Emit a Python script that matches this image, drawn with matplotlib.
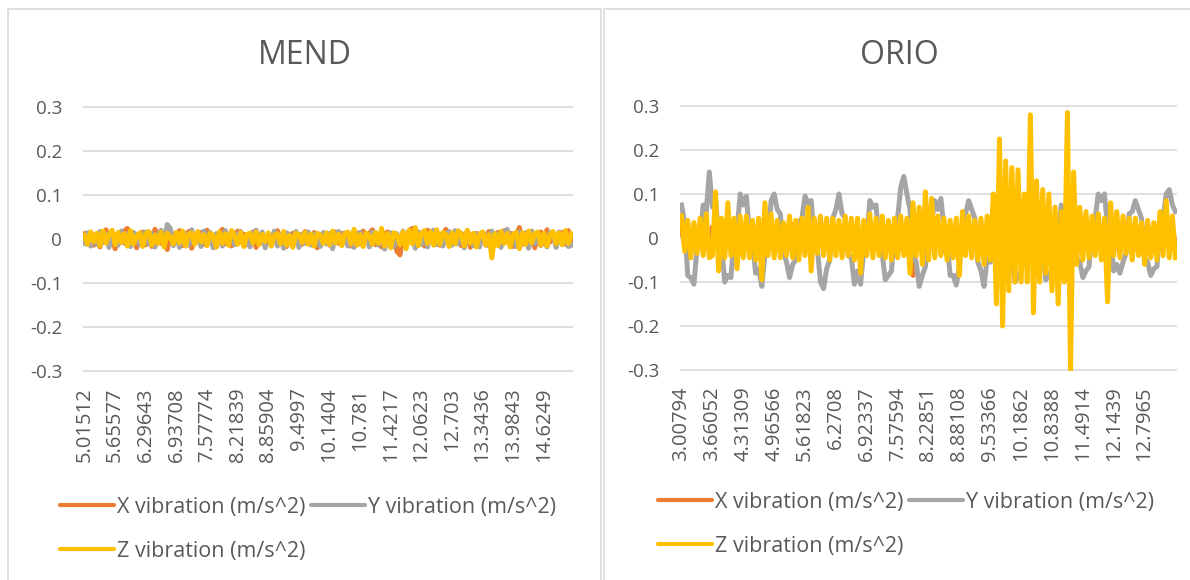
import matplotlib.pyplot as plt
from matplotlib.lines import Line2D
from matplotlib.patches import Rectangle

plt.rcParams['font.family'] = ['Open Sans', 'DejaVu Sans']

# series shared by both charts
series_names = ['X vibration (m/s^2)', 'Y vibration (m/s^2)', 'Z vibration (m/s^2)']
series_colors = ['#ED7D31', '#A5A5A5', '#FFC000']
y_ticks = [-0.3, -0.2, -0.1, 0, 0.1, 0.2, 0.3]
y_tick_labels = ['-0.3', '-0.2', '-0.1', '0', '0.1', '0.2', '0.3']
label_step = 10  # one category label every 10 samples

# MEND
mend_labels = ['5.01512', '5.65577', '6.29643', '6.93708', '7.57774', '8.21839',
               '8.85904', '9.4997', '10.1404', '10.781', '11.4217', '12.0623',
               '12.703', '13.3436', '13.9843', '14.6249']
mend_x = [
    0.012, -0.008, 0.015, -0.014, 0.006, -0.018, 0.010, 0.021, -0.011, 0.004,
    -0.022, 0.013, -0.006, 0.018, 0.024, -0.009, 0.011, -0.020, 0.007, 0.016,
    -0.013, 0.009, -0.017, 0.022, 0.003, -0.010, 0.014, -0.024, 0.008, 0.012,
    -0.006, 0.019, -0.015, 0.005, 0.017, -0.021, 0.010, -0.004, 0.015, -0.012,
    0.020, -0.008, 0.006, -0.018, 0.013, 0.022, -0.011, 0.004, -0.016, 0.009,
    0.018, -0.007, 0.011, -0.013, 0.003, 0.016, -0.019, 0.008, 0.012, -0.010,
    0.005, -0.015, 0.014, 0.019, -0.008, 0.010, -0.017, 0.006, 0.013, -0.005,
    0.011, -0.012, 0.017, -0.009, 0.004, 0.015, -0.020, 0.009, -0.006, 0.012,
    -0.014, 0.007, 0.016, -0.010, 0.013, -0.005, 0.010, -0.016, 0.008, 0.014,
    -0.011, 0.018, -0.007, 0.012, 0.021, -0.013, 0.006, -0.018, 0.010, 0.016,
    -0.009, 0.013, -0.028, -0.036, 0.011, -0.012, 0.019, 0.024, -0.010, 0.015,
    0.008, -0.016, 0.020, 0.012, -0.008, 0.017, -0.014, 0.009, 0.022, -0.011,
    0.014, -0.007, 0.018, -0.015, 0.010, 0.016, -0.019, 0.007, 0.013, -0.009,
    0.011, -0.014, 0.017, -0.022, 0.008, 0.015, -0.010, 0.019, -0.006, 0.013,
    -0.017, 0.010, 0.026, -0.012, 0.014, -0.008, 0.018, -0.020, 0.009, 0.016,
    -0.011, 0.021, -0.007, 0.013, -0.016, 0.010, 0.015, -0.012, 0.019, -0.008,
]
mend_y = [
    -0.010, 0.014, -0.016, 0.009, -0.012, 0.017, -0.008, 0.011, -0.019, 0.013,
    0.007, -0.014, 0.018, -0.010, 0.012, -0.017, 0.015, 0.008, -0.013, 0.010,
    0.016, -0.011, 0.013, -0.018, 0.009, 0.020, -0.012, 0.033, 0.024, -0.015,
    0.012, -0.019, 0.016, 0.010, -0.014, 0.021, -0.009, 0.013, -0.017, 0.018,
    -0.011, 0.015, -0.020, 0.012, 0.009, -0.016, 0.019, -0.010, 0.014, -0.013,
    0.011, 0.017, -0.015, 0.008, -0.018, 0.013, 0.020, -0.012, 0.016, -0.020,
    0.012, -0.009, 0.018, -0.016, 0.010, -0.021, 0.014, 0.009, -0.013, 0.017,
    -0.019, 0.011, -0.010, 0.016, -0.014, 0.012, 0.008, -0.017, 0.015, -0.011,
    0.013, -0.022, 0.010, 0.017, -0.012, 0.014, -0.016, 0.011, -0.019, 0.009,
    0.015, -0.013, 0.012, -0.018, 0.016, 0.010, -0.014, 0.019, -0.023, 0.011,
    0.014, -0.017, 0.012, -0.010, 0.018, -0.015, 0.009, 0.013, -0.021, 0.016,
    -0.012, 0.011, -0.018, 0.015, 0.020, -0.013, 0.010, -0.016, 0.012, 0.017,
    -0.014, 0.019, -0.011, 0.013, -0.020, 0.016, 0.009, -0.015, 0.012, -0.018,
    0.014, 0.010, -0.016, 0.018, -0.012, 0.011, -0.019, 0.015, 0.022, -0.014,
    0.012, -0.017, 0.016, -0.010, 0.013, -0.021, 0.017, -0.011, 0.014, -0.015,
    0.010, -0.018, 0.015, 0.012, -0.019, 0.016, -0.013, 0.011, -0.017, -0.014,
]
mend_z = [
    0.008, -0.012, 0.016, -0.006, 0.013, -0.015, 0.018, -0.009, 0.011, 0.020,
    -0.013, 0.015, -0.008, 0.012, -0.016, 0.019, -0.011, 0.007, 0.014, -0.017,
    0.012, 0.017, -0.014, 0.009, -0.010, 0.016, -0.018, 0.013, 0.006, -0.011,
    0.015, -0.009, 0.018, -0.016, 0.011, 0.014, -0.012, 0.017, -0.007, 0.010,
    -0.015, 0.013, 0.008, -0.018, 0.016, -0.010, 0.012, -0.014, 0.019, 0.007,
    -0.012, 0.015, -0.017, 0.010, 0.013, -0.009, 0.016, -0.013, 0.011, -0.006,
    0.014, -0.016, 0.009, 0.012, -0.011, 0.017, -0.014, 0.008, -0.019, 0.013,
    0.010, -0.008, 0.015, -0.012, 0.011, -0.016, 0.013, 0.009, -0.010, 0.014,
    -0.013, 0.018, -0.009, 0.011, -0.015, 0.012, 0.016, -0.011, 0.022, -0.014,
    0.010, -0.017, 0.013, 0.008, -0.012, 0.015, -0.010, 0.024, -0.016, 0.012,
    -0.020, 0.014, 0.009, -0.013, 0.016, -0.022, 0.020, -0.011, 0.026, -0.015,
    0.013, 0.019, -0.010, 0.016, -0.014, 0.021, -0.012, 0.015, 0.010, -0.017,
    0.014, -0.011, 0.018, 0.012, -0.016, 0.020, -0.009, 0.013, -0.018, 0.011,
    0.016, -0.013, 0.010, -0.043, 0.012, -0.015, 0.017, -0.010, 0.013, -0.018,
    0.011, 0.015, -0.022, 0.014, -0.012, 0.018, -0.009, 0.012, 0.016, -0.014,
    0.013, -0.016, 0.010, 0.017, -0.011, 0.014, -0.013, 0.019, -0.010, 0.012,
]

# ORIO
orio_labels = ['3.00794', '3.66052', '4.31309', '4.96566', '5.61823', '6.2708',
               '6.92337', '7.57594', '8.22851', '8.88108', '9.53366', '10.1862',
               '10.8388', '11.4914', '12.1439', '12.7965']
orio_x = [
    0.02, -0.015, 0.025, -0.02, 0.01, -0.025, 0.015, -0.01, 0.03, -0.02,
    0.025, -0.015, 0.02, -0.03, 0.015, -0.02, 0.025, -0.01, 0.02, -0.025,
    0.015, -0.02, 0.03, -0.015, 0.02, -0.025, 0.01, -0.03, 0.025, -0.015,
    0.02, -0.01, 0.025, -0.02, 0.015, -0.025, 0.03, -0.015, 0.02, -0.02,
    0.01, 0.025, -0.03, 0.02, -0.015, 0.025, -0.02, 0.015, -0.025, 0.02,
    -0.01, 0.025, -0.02, 0.03, -0.015, 0.02, -0.025, 0.015, -0.03, 0.02,
    0.025, -0.015, 0.02, -0.02, 0.03, -0.025, 0.015, -0.02, 0.025, -0.015,
    0.02, -0.025, 0.015, -0.02, -0.04, -0.085, -0.02, 0.03, 0.04, -0.03,
    0.035, -0.02, 0.025, -0.015, 0.02, -0.03, 0.025, -0.02, 0.015, -0.025,
    -0.04, 0.02, 0.03, -0.02, 0.025, -0.025, 0.015, -0.03, 0.02, -0.035,
    -0.03, 0.04, -0.05, 0.06, -0.05, 0.05, -0.04, 0.05, -0.04, 0.05,
    -0.04, 0.04, -0.04, 0.06, -0.05, 0.04, -0.04, 0.04, -0.03, 0.04,
    -0.04, 0.03, -0.04, 0.03, -0.04, 0.05, -0.06, 0.04, -0.03, 0.03,
    -0.02, 0.025, -0.02, 0.03, -0.015, 0.02, -0.025, 0.02, -0.04, 0.02,
    0.035, -0.02, 0.03, -0.02, 0.025, -0.015, 0.02, -0.025, 0.02, -0.015,
    0.02, -0.03, 0.02, -0.02, 0.015, -0.025, 0.03, 0.04, -0.02, 0.025,
    -0.02,
]
orio_y = [
    0.075, 0.035, -0.085, -0.09, -0.105, -0.025, -0.01, 0.075, 0.06, 0.15,
    0.07, 0.09, 0.0, -0.02, -0.1, -0.085, -0.09, 0.0, 0.02, 0.1,
    0.075, 0.095, 0.01, -0.005, -0.08, -0.07, -0.11, -0.04, -0.02, 0.085,
    0.1, 0.065, 0.055, -0.03, -0.055, -0.09, -0.06, -0.05, 0.035, 0.045,
    0.095, 0.08, 0.085, 0.0, -0.025, -0.1, -0.115, -0.07, -0.05, 0.045,
    0.065, 0.1, 0.055, 0.045, -0.04, -0.045, -0.105, -0.075, -0.105, -0.03,
    0.0, 0.085, 0.07, 0.075, -0.01, -0.035, -0.095, -0.085, -0.075, 0.015,
    0.045, 0.115, 0.14, 0.1, 0.065, -0.04, -0.055, -0.11, -0.085, -0.065,
    0.025, 0.035, 0.085, 0.065, 0.09, 0.025, -0.005, -0.085, -0.085, -0.107,
    -0.065, 0.035, 0.055, 0.085, 0.065, 0.045, -0.055, -0.075, -0.11, -0.045,
    -0.055, 0.035, 0.045, 0.085, 0.07, 0.065, -0.025, -0.045, -0.1, -0.085,
    -0.075, 0.015, 0.035, 0.09, 0.075, 0.085, 0.005, -0.025, -0.095, -0.08,
    -0.09, -0.025, 0.005, 0.075, 0.065, 0.085, 0.065, 0.045, -0.045, -0.055,
    -0.09, -0.075, -0.065, 0.025, 0.045, 0.1, 0.085, 0.1, 0.025, -0.005,
    -0.075, -0.06, -0.08, -0.055, -0.035, 0.055, 0.06, 0.085, 0.065, 0.045,
    -0.045, -0.055, -0.085, -0.07, -0.065, 0.025, 0.045, 0.1, 0.11, 0.075,
    0.06,
]
orio_z = [
    0.05, -0.03, 0.04, -0.045, 0.035, -0.035, 0.045, -0.04, 0.055, -0.045,
    -0.04, 0.105, -0.075, 0.045, -0.045, 0.08, -0.04, 0.045, -0.07, 0.05,
    -0.045, 0.05, -0.045, 0.04, -0.05, 0.045, -0.095, 0.08, -0.04, 0.055,
    -0.045, 0.04, -0.045, 0.035, -0.04, 0.05, -0.045, 0.04, -0.05, 0.045,
    -0.04, 0.07, -0.075, 0.045, -0.035, 0.05, -0.04, 0.045, -0.05, 0.045,
    -0.04, 0.04, -0.045, 0.05, -0.04, 0.045, -0.05, 0.045, -0.08, 0.04,
    -0.04, 0.055, -0.045, 0.045, -0.04, 0.05, -0.045, 0.04, -0.05, 0.045,
    -0.045, 0.05, -0.04, 0.045, -0.08, 0.08, -0.04, 0.07, -0.06, 0.105,
    -0.05, 0.09, -0.045, 0.05, -0.04, 0.045, -0.05, 0.04, -0.045, 0.045,
    -0.085, 0.06, -0.04, 0.05, -0.045, 0.04, -0.05, 0.045, -0.06, 0.05,
    -0.05, 0.1, -0.15, 0.225, -0.2, 0.175, -0.12, 0.16, -0.1, 0.155,
    -0.1, 0.1, -0.1, 0.28, -0.17, 0.13, -0.1, 0.11, -0.08, 0.1,
    -0.12, 0.07, -0.15, 0.06, -0.1, 0.285, -0.30, 0.15, -0.06, 0.07,
    -0.05, 0.06, -0.045, 0.05, -0.04, 0.055, -0.05, 0.045, -0.145, 0.08,
    -0.04, 0.06, -0.045, 0.05, -0.035, 0.045, -0.05, 0.045, -0.04, 0.035,
    -0.06, 0.04, -0.045, 0.035, -0.05, 0.06, -0.04, 0.085, -0.045, 0.05,
    -0.045,
]

W, H = 1190, 580
text_color = '#595959'


def draw_panel(fig, box, plot_box, title, labels, data, legend_xy):
    # panel frame (pixels: left, top, right), kept behind the axes
    x0, top, x1 = box
    fig.patches.append(Rectangle((x0 / W, -0.02), (x1 - x0) / W, 1.02 - top / H,
                                 transform=fig.transFigure, facecolor='white',
                                 edgecolor='#d9d9d9', lw=1.2, zorder=-5))
    fig.text((x0 + x1) / 2 / W, 1 - 64 / H, title, ha='center', va='baseline',
             fontsize=23, color=text_color)

    left, ytop, right, ybot = plot_box
    ax = fig.add_axes([left / W, 1 - ybot / H, (right - left) / W, (ybot - ytop) / H])
    ax.set_facecolor('none')
    n = len(data[0])
    idx = list(range(n))
    for t in y_ticks:
        ax.axhline(t, color='#d9d9d9', lw=1.2, zorder=0)
    for vals, c in zip(data, series_colors):
        ax.plot(idx[:len(vals)], vals, color=c, lw=3.6, solid_joinstyle='round')

    ax.set_xlim(-0.5, n - 0.5)
    ax.set_ylim(-0.303, 0.303)
    ax.set_yticks(y_ticks)
    ax.set_yticklabels(y_tick_labels)
    ax.set_xticks(list(range(0, len(labels) * label_step, label_step)))
    ax.set_xticklabels(labels, rotation=90)
    ax.tick_params(axis='both', length=0, colors=text_color)
    ax.tick_params(axis='y', labelsize=13.5, pad=15)
    ax.tick_params(axis='x', labelsize=14.5, pad=11)
    for s in ax.spines.values():
        s.set_visible(False)

    handles = [Line2D([], [], color=c, lw=3, solid_capstyle='round') for c in series_colors]
    order = [0, 2, 1]  # fill rows: X, Y on the first row, Z below
    fig.legend([handles[i] for i in order], [series_names[i] for i in order],
               loc='upper left', bbox_to_anchor=(legend_xy[0] / W, 1 - legend_xy[1] / H),
               ncol=2, frameon=False, fontsize=15.5, handlelength=2.5,
               handletextpad=0.15, columnspacing=0.25, borderpad=0,
               borderaxespad=0, labelspacing=1.05, labelcolor=text_color)
    return ax


fig = plt.figure(figsize=(11.9, 5.8), dpi=100)
draw_panel(fig, (8, 9, 601), (83, 105.7, 573, 372.3), 'MEND', mend_labels,
           [mend_x, mend_y, mend_z], (60, 497))
draw_panel(fig, (604, 9, 1195), (680, 104.7, 1177, 371.3), 'ORIO', orio_labels,
           [orio_x, orio_y, orio_z], (658, 492))

fig.savefig('out.png', dpi=100)
